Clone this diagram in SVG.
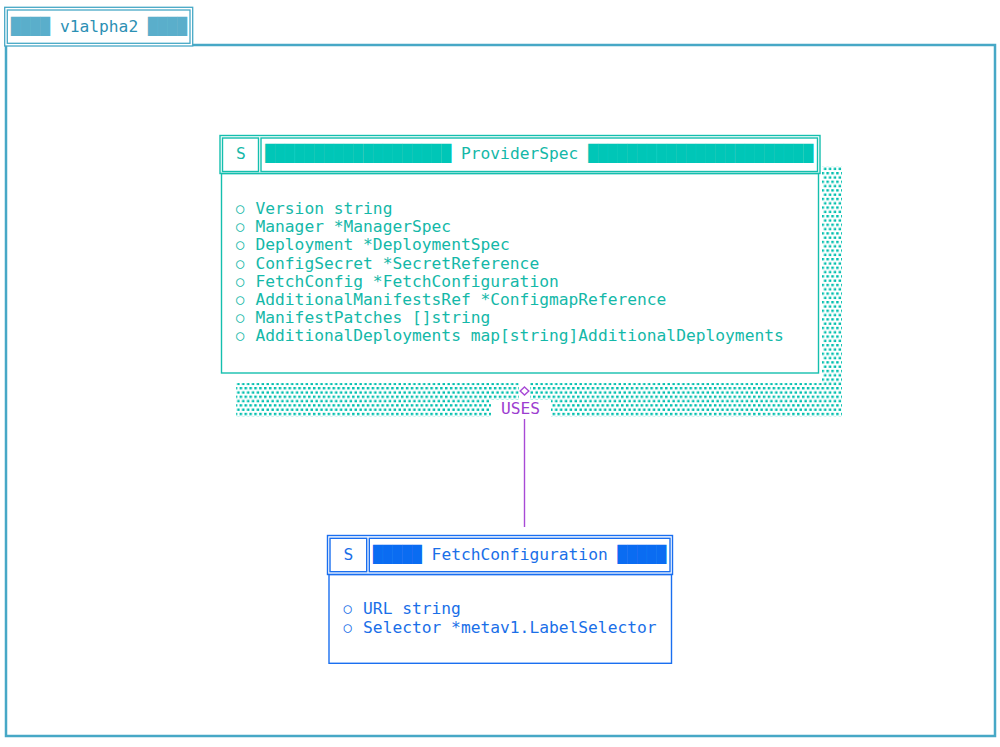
<svg xmlns="http://www.w3.org/2000/svg" width="1000" height="747" viewBox="0 0 1000 747">
<style>
text{font-family:"DejaVu Sans Mono","Liberation Mono",monospace;font-size:16.25px;white-space:pre}
.c{font-size:14px}
.pkg{fill:none;stroke:#47a8c6}
.pkgt{fill:#2b90b4}
.pkgb{fill:#5aaecb}
.tl{fill:none;stroke:#14bfae;stroke-width:1.4}
.tt{fill:#14b8a8}
.tb{fill:#00c6b7}
.bl{fill:none;stroke:#1a6ff0;stroke-width:1.4}
.bt{fill:#1a6fe8}
.bb{fill:#0a6cf2}
.pu{stroke:#a84ad6;stroke-width:1.4}
.put{fill:#9c3dd0}
</style>
<defs>
<pattern id="shade" width="4.89" height="8.6" patternUnits="userSpaceOnUse">
<rect x="0" y="0" width="2.5" height="2.4" fill="#00bfae"/>
<rect x="2.45" y="4.3" width="2.5" height="2.4" fill="#00bfae"/>
</pattern>
</defs>
<rect width="1000" height="747" fill="#ffffff"/>
<g id="package-v1alpha2">
<path class="pkg" stroke-width="2.5" d="M193,45 H995 V736 H6 V46"/>
<rect class="pkg" stroke-width="1.3" x="4.7" y="7.3" width="188" height="38.7"/>
<rect class="pkg" stroke-width="1.3" x="7.3" y="10" width="182.7" height="33.3"/>
<text x="11" y="32"><tspan class="pkgb">████</tspan><tspan class="pkgt"> v1alpha2 </tspan><tspan class="pkgb">████</tspan></text>
</g>
<g id="node-ProviderSpec">
<rect x="822" y="166" width="20" height="217" fill="url(#shade)"/>
<rect x="236" y="383" width="606" height="34" fill="url(#shade)"/>
<rect class="tl" x="220" y="135.5" width="600" height="38"/>
<rect class="tl" x="222.5" y="138" width="36" height="33.5"/>
<rect class="tl" x="261" y="138" width="556.5" height="33.5"/>
<rect class="tl" x="221.5" y="173.5" width="597" height="199.5" fill="#ffffff"/>
<text class="tt" x="235.9" y="159.4">S</text>
<text x="265.3" y="159.4"><tspan class="tb">███████████████████</tspan><tspan class="tt"> ProviderSpec </tspan><tspan class="tb">███████████████████████</tspan></text>
<text class="tt" x="235.9" y="214"><tspan class="c" dy="-1">○</tspan><tspan dx="1.35" dy="1"> Version string</tspan></text>
<text class="tt" x="235.9" y="232.2"><tspan class="c" dy="-1">○</tspan><tspan dx="1.35" dy="1"> Manager *ManagerSpec</tspan></text>
<text class="tt" x="235.9" y="250.4"><tspan class="c" dy="-1">○</tspan><tspan dx="1.35" dy="1"> Deployment *DeploymentSpec</tspan></text>
<text class="tt" x="235.9" y="268.6"><tspan class="c" dy="-1">○</tspan><tspan dx="1.35" dy="1"> ConfigSecret *SecretReference</tspan></text>
<text class="tt" x="235.9" y="286.8"><tspan class="c" dy="-1">○</tspan><tspan dx="1.35" dy="1"> FetchConfig *FetchConfiguration</tspan></text>
<text class="tt" x="235.9" y="305"><tspan class="c" dy="-1">○</tspan><tspan dx="1.35" dy="1"> AdditionalManifestsRef *ConfigmapReference</tspan></text>
<text class="tt" x="235.9" y="323.2"><tspan class="c" dy="-1">○</tspan><tspan dx="1.35" dy="1"> ManifestPatches []string</tspan></text>
<text class="tt" x="235.9" y="341.4"><tspan class="c" dy="-1">○</tspan><tspan dx="1.35" dy="1"> AdditionalDeployments map[string]AdditionalDeployments</tspan></text>
</g>
<g id="node-FetchConfiguration">
<rect class="bl" x="327.5" y="535.5" width="345" height="39"/>
<rect class="bl" x="330" y="538.3" width="36.7" height="33.4"/>
<rect class="bl" x="369.3" y="538.3" width="300.7" height="33.4"/>
<rect class="bl" x="329" y="574.5" width="342.5" height="88.8"/>
<text class="bt" x="343.5" y="559.8">S</text>
<text x="372.9" y="559.8"><tspan class="bb">█████</tspan><tspan class="bt"> FetchConfiguration </tspan><tspan class="bb">█████</tspan></text>
<text class="bt" x="343.5" y="614.4"><tspan class="c" dy="-1">○</tspan><tspan dx="1.35" dy="1"> URL string</tspan></text>
<text class="bt" x="343.5" y="632.6"><tspan class="c" dy="-1">○</tspan><tspan dx="1.35" dy="1"> Selector *metav1.LabelSelector</tspan></text>
</g>
<g id="connectors">
<g id="edge-ProviderSpec-uses-FetchConfiguration">
<rect x="519" y="383" width="11" height="17" fill="#ffffff"/>
<rect x="491" y="400" width="60" height="18" fill="#ffffff"/>
<line class="pu" x1="524.5" y1="419" x2="524.5" y2="527"/>
<polygon class="pu" fill="#ffffff" points="524.5,387 528.8,391 524.5,395 520.2,391"/>
<text class="put" x="520.5" y="414.2" text-anchor="middle">USES</text>
</g>
</g>
</svg>
